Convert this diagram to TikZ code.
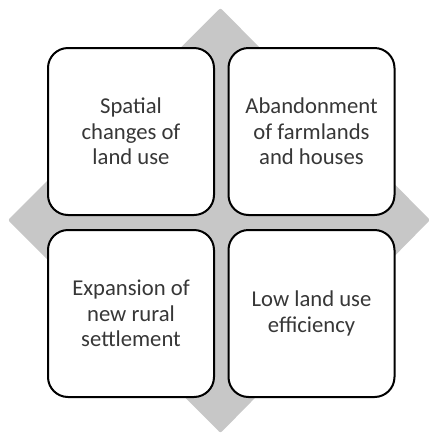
\documentclass[tikz,border=0pt]{standalone}
\usepackage{fontspec}
\setmainfont{Carlito}
\usepackage{tikz}
\usetikzlibrary{positioning}
\definecolor{diamondgray}{RGB}{199,199,199}
\definecolor{labelgray}{RGB}{55,55,55}
\tikzset{
	landbox/.style={draw=black, line width=1.5pt, fill=white, rounded corners=15pt,
		minimum width=124.5pt, minimum height=125.25pt, inner sep=0pt,
		align=center, text=labelgray, font=\fontsize{17}{19}\selectfont},
}

\begin{document}
\begin{tikzpicture}[x=0.75pt, y=-0.75pt]
			%%%%% START %%%%%
			\useasboundingbox (0, 0) rectangle (429, 433);
			
			\fill[diamondgray, rounded corners=1.5pt] (220.5, 8) -- (430, 220) -- (220.5, 433) -- (8, 220) -- cycle;
			
			\node[landbox] (spatial) at (131, 131.5) {Spatial\\changes of\\land use};
			\node[landbox] (abandon) at (311.5, 131.5) {Abandonment\\of farmlands\\and houses};
			\node[landbox] (expand) at (131, 313.5) {Expansion of\\new rural\\settlement};
			\node[landbox] (lowuse) at (311.5, 313.5) {Low land use\\efficiency};
			%%%%% END %%%%%
\end{tikzpicture}
\end{document}
